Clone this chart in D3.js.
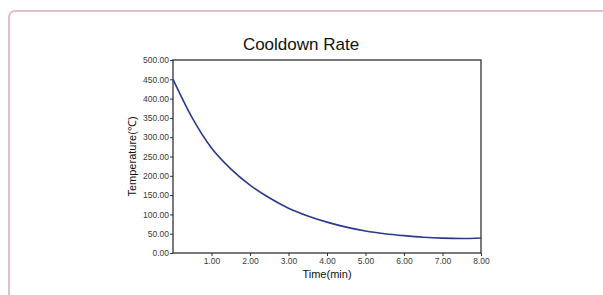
<!DOCTYPE html>
<html>
<head>
<meta charset="utf-8">
<script src="https://cdn.jsdelivr.net/npm/d3@7"></script>
<style>
  html, body { margin: 0; padding: 0; background: #fff; }
  body { width: 603px; height: 295px; overflow: hidden; position: relative; }
  .card {
    position: absolute; left: 8px; top: 10px; width: 620px; height: 320px;
    border: 2px solid #e3bfcb; border-radius: 7px; box-sizing: border-box; background: #fff;
  }
  svg { position: absolute; left: 0; top: 0; }
  .tick text { font-family: "Liberation Sans", Arial, sans-serif; font-size: 8.5px; fill: #3a3a3a; }
</style>
</head>
<body>
<div class="card"></div>
<svg id="chart" width="603" height="295"></svg>
<script>
  // time in minutes, temperature in °C
  var times = [0, 0.5, 1.0, 1.5, 2.0, 2.5, 3.0, 3.5, 4.0, 4.5, 5.0, 5.5, 6.0, 6.5, 7.0, 7.5, 8.0];
  var temps = [450, 350, 272, 218, 176, 143, 116, 96, 80, 67, 57, 50, 45, 41, 38.5, 37.5, 39];
  var xTicks = [1, 2, 3, 4, 5, 6, 7, 8];
  var yTicks = [0, 50, 100, 150, 200, 250, 300, 350, 400, 450, 500];

  var margin = { left: 173, top: 60, right: 481, bottom: 253 };
  var svg = d3.select("#chart");

  var x = d3.scaleLinear().domain([0, 8]).range([margin.left, margin.right]);
  var y = d3.scaleLinear().domain([0, 500]).range([margin.bottom, margin.top]);

  svg.append("text")
    .attr("x", 301).attr("y", 50)
    .attr("text-anchor", "middle")
    .style("font-family", "'Liberation Sans', Arial, sans-serif")
    .style("font-size", "17px")
    .style("fill", "#111")
    .text("Cooldown Rate");

  svg.append("g")
    .attr("transform", "translate(0," + margin.bottom + ")")
    .call(d3.axisBottom(x).tickValues(xTicks).tickSize(3).tickPadding(2).tickFormat(d3.format(".2f")))
    .call(function (g) { g.select(".domain").remove(); g.selectAll("line").attr("stroke", "#333"); });

  svg.append("g")
    .attr("transform", "translate(" + margin.left + ",0)")
    .call(d3.axisLeft(y).tickValues(yTicks).tickSize(3).tickPadding(1).tickFormat(d3.format(".2f")))
    .call(function (g) { g.select(".domain").remove(); g.selectAll("line").attr("stroke", "#333"); });

  svg.append("rect")
    .attr("x", margin.left).attr("y", margin.top)
    .attr("width", margin.right - margin.left).attr("height", margin.bottom - margin.top)
    .attr("fill", "none").attr("stroke", "#222").attr("stroke-width", 1.2);

  var line = d3.line()
    .x(function (d, i) { return x(times[i]); })
    .y(function (d) { return y(d); })
    .curve(d3.curveMonotoneX);

  svg.append("path")
    .datum(temps)
    .attr("d", line)
    .attr("fill", "none")
    .attr("stroke", "#2b3a8c")
    .attr("stroke-width", 1.6);

  svg.append("text")
    .attr("x", (margin.left + margin.right) / 2).attr("y", 278)
    .attr("text-anchor", "middle")
    .style("font-family", "'Liberation Sans', Arial, sans-serif")
    .style("font-size", "11px").style("fill", "#111")
    .text("Time(min)");

  svg.append("text")
    .attr("transform", "translate(136," + (margin.top + margin.bottom) / 2 + ") rotate(-90)")
    .attr("text-anchor", "middle")
    .style("font-family", "'Liberation Sans', Arial, sans-serif")
    .style("font-size", "11px").style("fill", "#111")
    .text("Temperature(℃)");
</script>
</body>
</html>
